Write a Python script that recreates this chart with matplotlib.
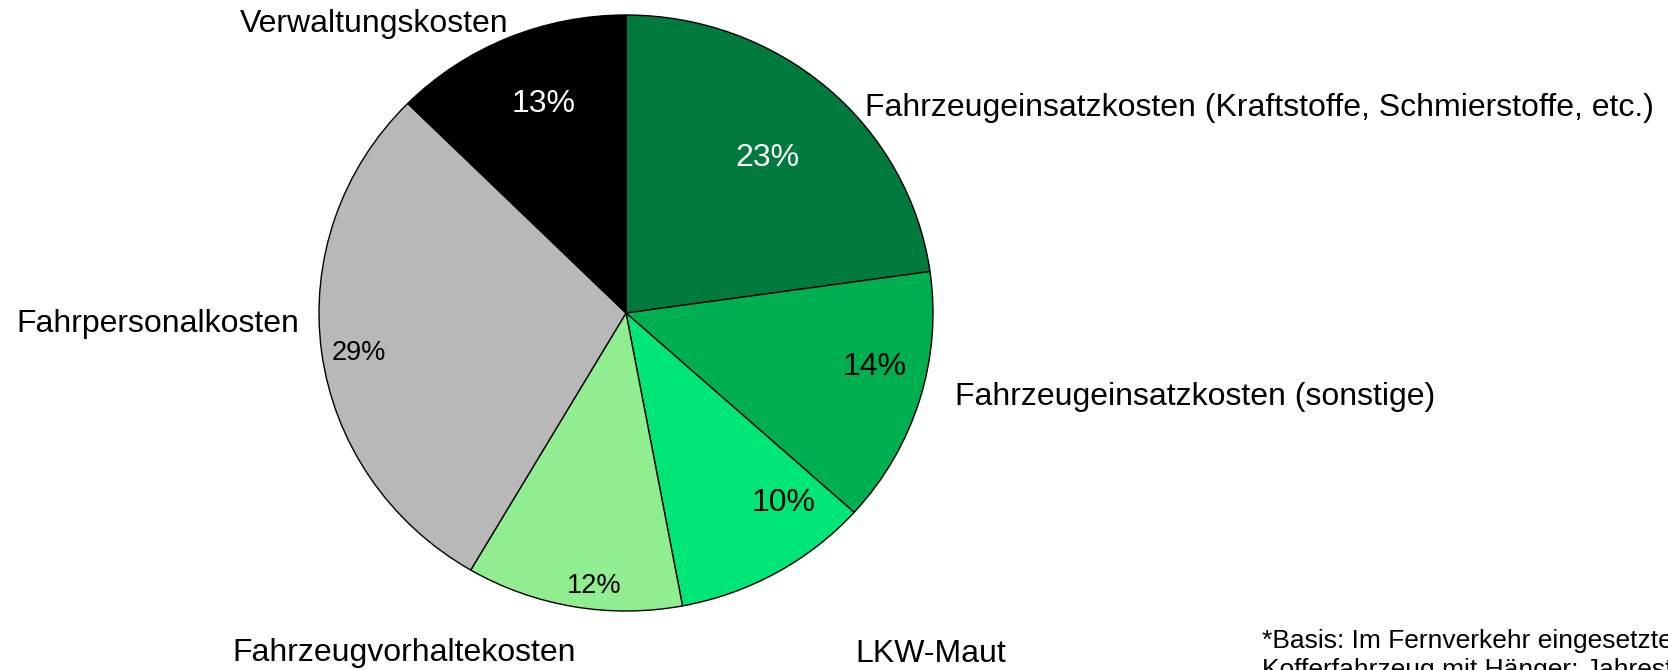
import matplotlib
matplotlib.use("Agg")
import matplotlib.pyplot as plt

categories = [
    "Fahrzeugeinsatzkosten (Kraftstoffe, Schmierstoffe, etc.)",
    "Fahrzeugeinsatzkosten (sonstige)",
    "LKW-Maut",
    "Fahrzeugvorhaltekosten",
    "Fahrpersonalkosten",
    "Verwaltungskosten",
]
values = [22.8, 13.9, 10.4, 11.4, 29.0, 12.6]
pct_labels = ["23%", "14%", "10%", "12%", "29%", "13%"]
colors = ["#007A3D", "#00B050", "#00E676", "#90EE90", "#B8B8B8", "#000000"]
pct_colors = ["white", "black", "black", "black", "black", "white"]
pct_sizes = [23, 23, 23, 19.5, 19.5, 23]
footnote_lines = ["*Basis: Im Fernverkehr eingesetzter",
                  "Kofferfahrzeug mit Hänger; Jahresfahrleistung"]

W, H = 1668, 670
plt.rcParams['font.family'] = ['Liberation Sans', 'DejaVu Sans']
fig = plt.figure(figsize=(W / 100, H / 100), dpi=100)

# pie ellipse box (pixels): center (626,313), rx 307, ry 298
cx, cy, rx, ry = 626, 313, 307, 298
ax = fig.add_axes([(cx - rx) / W, (H - cy - ry) / H, 2 * rx / W, 2 * ry / H])
wedges, _ = ax.pie(values, colors=colors, startangle=90, counterclock=False,
                   wedgeprops=dict(edgecolor="black", linewidth=1.0))
ax.set_aspect('auto')
ax.set_xlim(-1, 1)
ax.set_ylim(-1, 1)
ax.axis('off')


def px(x, y):
    return x / W, 1 - y / H


# category label positions (left, baseline) in pixels
label_pos = [(865, 116), (955, 405), (855, 662), (232, 661), (16, 332), (240, 32)]
for name, (x, y) in zip(categories, label_pos):
    fig.text(*px(x, y), name, ha='left', va='baseline', fontsize=23, color='black')

pct_pos = [(735, 166), (843, 375), (752, 511), (567, 593), (332, 360), (512, 112)]
for lab, (x, y), c, s in zip(pct_labels, pct_pos, pct_colors, pct_sizes):
    fig.text(*px(x, y), lab, ha='left', va='baseline', fontsize=s, color=c)

for i, line in enumerate(footnote_lines):
    fig.text(*px(1262, 648 + 29 * i), line, ha='left', va='baseline',
             fontsize=19, color='black')

fig.savefig("out.png", dpi=100, facecolor='white')
